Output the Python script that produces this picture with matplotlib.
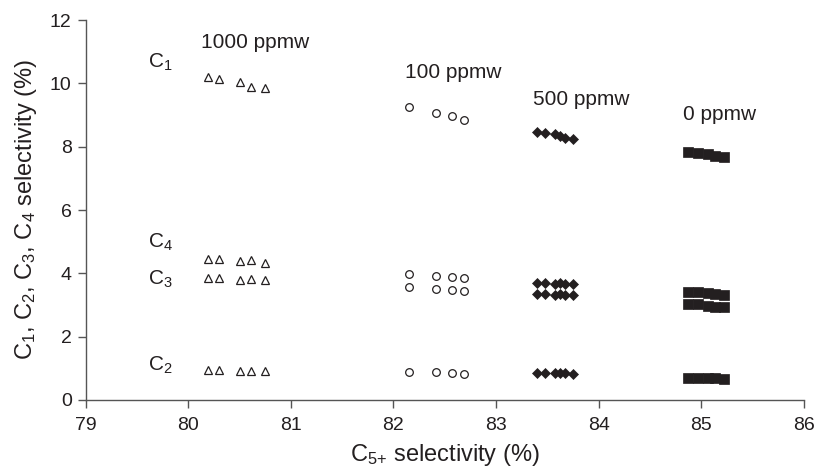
import matplotlib
matplotlib.use("Agg")
import matplotlib.pyplot as plt

plt.rcParams['font.family'] = ['Liberation Sans', 'DejaVu Sans']
plt.rcParams['mathtext.default'] = 'regular'

# 1000 ppmw (open triangles)
x_1000 = [80.19, 80.30, 80.50, 80.61, 80.75]
c1_1000 = [10.20, 10.13, 10.04, 9.90, 9.87]
c4_1000 = [4.45, 4.45, 4.39, 4.41, 4.33]
c3_1000 = [3.86, 3.86, 3.79, 3.81, 3.79]
c2_1000 = [0.94, 0.94, 0.92, 0.93, 0.91]

# 100 ppmw (open circles)
x_100 = [82.15, 82.41, 82.57, 82.69]
c1_100 = [9.24, 9.08, 8.96, 8.84]
c4_100 = [3.99, 3.93, 3.90, 3.85]
c3_100 = [3.57, 3.52, 3.49, 3.45]
c2_100 = [0.89, 0.88, 0.85, 0.83]

# 500 ppmw (filled diamonds)
x_500 = [83.40, 83.48, 83.57, 83.62, 83.67, 83.75]
c1_500 = [8.46, 8.42, 8.39, 8.33, 8.28, 8.23]
c4_500 = [3.70, 3.70, 3.68, 3.69, 3.68, 3.67]
c3_500 = [3.35, 3.35, 3.33, 3.34, 3.33, 3.32]
c2_500 = [0.85, 0.85, 0.84, 0.84, 0.84, 0.83]

# 0 ppmw (filled squares)
x_0 = [84.87, 84.97, 85.06, 85.13, 85.22]
c1_0 = [7.83, 7.81, 7.78, 7.72, 7.69]
c4_0 = [3.42, 3.41, 3.38, 3.36, 3.33]
c3_0 = [3.03, 3.02, 2.97, 2.95, 2.93]
c2_0 = [0.70, 0.70, 0.68, 0.68, 0.67]

group_labels = ['1000 ppmw', '100 ppmw', '500 ppmw', '0 ppmw']
group_label_pos = [(80.12, 11.3), (82.11, 10.35), (83.36, 9.49), (84.82, 9.02)]
carbon_labels = ['$C_1$', '$C_4$', '$C_3$', '$C_2$']
carbon_label_pos = [(79.61, 10.66), (79.61, 4.97), (79.61, 3.8), (79.61, 1.1)]

x_ticks = [79, 80, 81, 82, 83, 84, 85, 86]
y_ticks = [0, 2, 4, 6, 8, 10, 12]

fig = plt.figure(figsize=(8.15, 4.68), dpi=100)
ax = fig.add_axes([0.105, 0.1453, 0.8815, 0.8117])

dark = '#231f20'
for ys in (c1_1000, c4_1000, c3_1000, c2_1000):
    ax.plot(x_1000, ys, linestyle='none', marker='^', markersize=5.5,
            markerfacecolor='white', markeredgecolor=dark, markeredgewidth=0.9)
for ys in (c1_100, c4_100, c3_100, c2_100):
    ax.plot(x_100, ys, linestyle='none', marker='o', markersize=5.5,
            markerfacecolor='white', markeredgecolor=dark, markeredgewidth=0.9)
for ys in (c1_500, c4_500, c3_500, c2_500):
    ax.plot(x_500, ys, linestyle='none', marker='D', markersize=4.6,
            markerfacecolor=dark, markeredgecolor=dark, markeredgewidth=0.5)
for ys in (c1_0, c4_0, c3_0, c2_0):
    ax.plot(x_0, ys, linestyle='none', marker='s', markersize=7.5,
            markerfacecolor=dark, markeredgecolor=dark, markeredgewidth=0.5)

for lab, (tx, ty) in zip(group_labels, group_label_pos):
    ax.text(tx, ty, lab, fontsize=15, color=dark, ha='left', va='center')
for lab, (tx, ty) in zip(carbon_labels, carbon_label_pos):
    ax.text(tx, ty, lab, fontsize=15, color=dark, ha='left', va='center')

ax.set_xlim(79, 86)
ax.set_ylim(0, 12)
ax.set_xticks(x_ticks)
ax.set_yticks(y_ticks)
ax.tick_params(axis='both', direction='out', length=6, width=1, colors='#555555',
               labelsize=14, labelcolor=dark)
ax.tick_params(axis='x', pad=6)
ax.tick_params(axis='y', pad=4)
for s in ('top', 'right'):
    ax.spines[s].set_visible(False)
for s in ('left', 'bottom'):
    ax.spines[s].set_color('#555555')
    ax.spines[s].set_linewidth(1)

ax.set_xlabel('$C_{5{+}}$ selectivity (%)', fontsize=17, color=dark, labelpad=6)
ax.set_ylabel('$C_1$, $C_2$, $C_3$, $C_4$ selectivity (%)', fontsize=17, color=dark, labelpad=8)

fig.savefig('out.png', dpi=100)
